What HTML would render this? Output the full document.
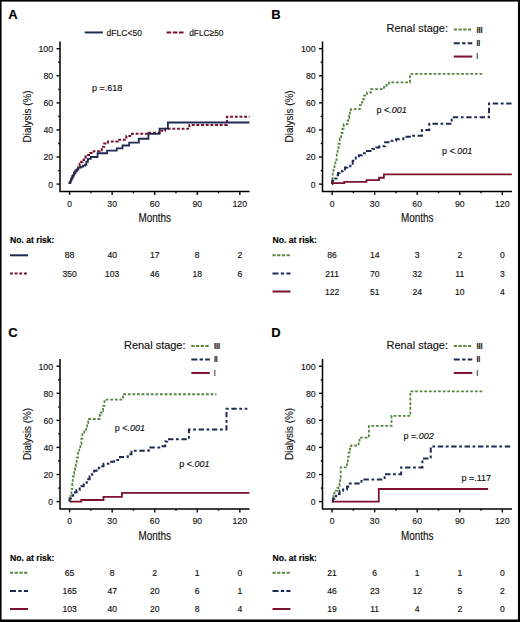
<!DOCTYPE html>
<html><head><meta charset="utf-8"><style>
html,body{margin:0;padding:0;background:#fff;}
svg{display:block;}
text{stroke:#111;stroke-width:0.15px;paint-order:stroke;}
</style></head><body>
<svg width="520" height="622" viewBox="0 0 520 622" font-family='"Liberation Sans", sans-serif'>
<rect x="0" y="0" width="520" height="622" fill="#fff"/>
<text x="8.2" y="19.3" font-size="13" text-anchor="start" font-weight="bold" fill="#000">A</text>
<path d="M60,41.5 V191.40000000000003 H249.5" fill="none" stroke="#000" stroke-width="1.5"/>
<line x1="56.5" y1="184.10" x2="60" y2="184.10" stroke="#000" stroke-width="1.35"/>
<text x="53.1" y="187.55" font-size="9.9" text-anchor="end" textLength="4.75" lengthAdjust="spacingAndGlyphs" fill="#111">0</text>
<line x1="58.2" y1="170.56" x2="60" y2="170.56" stroke="#000" stroke-width="1.35"/>
<line x1="56.5" y1="157.02" x2="60" y2="157.02" stroke="#000" stroke-width="1.35"/>
<text x="53.1" y="160.47" font-size="9.9" text-anchor="end" textLength="9.7" lengthAdjust="spacingAndGlyphs" fill="#111">20</text>
<line x1="58.2" y1="143.48" x2="60" y2="143.48" stroke="#000" stroke-width="1.35"/>
<line x1="56.5" y1="129.94" x2="60" y2="129.94" stroke="#000" stroke-width="1.35"/>
<text x="53.1" y="133.39000000000001" font-size="9.9" text-anchor="end" textLength="9.7" lengthAdjust="spacingAndGlyphs" fill="#111">40</text>
<line x1="58.2" y1="116.40" x2="60" y2="116.40" stroke="#000" stroke-width="1.35"/>
<line x1="56.5" y1="102.86" x2="60" y2="102.86" stroke="#000" stroke-width="1.35"/>
<text x="53.1" y="106.31000000000002" font-size="9.9" text-anchor="end" textLength="9.7" lengthAdjust="spacingAndGlyphs" fill="#111">60</text>
<line x1="58.2" y1="89.32" x2="60" y2="89.32" stroke="#000" stroke-width="1.35"/>
<line x1="56.5" y1="75.78" x2="60" y2="75.78" stroke="#000" stroke-width="1.35"/>
<text x="53.1" y="79.23000000000002" font-size="9.9" text-anchor="end" textLength="9.7" lengthAdjust="spacingAndGlyphs" fill="#111">80</text>
<line x1="58.2" y1="62.24" x2="60" y2="62.24" stroke="#000" stroke-width="1.35"/>
<line x1="56.5" y1="48.70" x2="60" y2="48.70" stroke="#000" stroke-width="1.35"/>
<text x="53.1" y="52.15000000000002" font-size="9.9" text-anchor="end" textLength="14.65" lengthAdjust="spacingAndGlyphs" fill="#111">100</text>
<line x1="69.60" y1="191.40000000000003" x2="69.60" y2="194.90000000000003" stroke="#000" stroke-width="1.35"/>
<text x="69.6" y="206.80000000000004" font-size="9.9" text-anchor="middle" textLength="4.75" lengthAdjust="spacingAndGlyphs" fill="#111">0</text>
<line x1="90.88" y1="191.40000000000003" x2="90.88" y2="193.20000000000005" stroke="#000" stroke-width="1.35"/>
<line x1="112.16" y1="191.40000000000003" x2="112.16" y2="194.90000000000003" stroke="#000" stroke-width="1.35"/>
<text x="112.16" y="206.80000000000004" font-size="9.9" text-anchor="middle" textLength="9.7" lengthAdjust="spacingAndGlyphs" fill="#111">30</text>
<line x1="133.43" y1="191.40000000000003" x2="133.43" y2="193.20000000000005" stroke="#000" stroke-width="1.35"/>
<line x1="154.71" y1="191.40000000000003" x2="154.71" y2="194.90000000000003" stroke="#000" stroke-width="1.35"/>
<text x="154.71" y="206.80000000000004" font-size="9.9" text-anchor="middle" textLength="9.7" lengthAdjust="spacingAndGlyphs" fill="#111">60</text>
<line x1="175.99" y1="191.40000000000003" x2="175.99" y2="193.20000000000005" stroke="#000" stroke-width="1.35"/>
<line x1="197.26" y1="191.40000000000003" x2="197.26" y2="194.90000000000003" stroke="#000" stroke-width="1.35"/>
<text x="197.26" y="206.80000000000004" font-size="9.9" text-anchor="middle" textLength="9.7" lengthAdjust="spacingAndGlyphs" fill="#111">90</text>
<line x1="218.54" y1="191.40000000000003" x2="218.54" y2="193.20000000000005" stroke="#000" stroke-width="1.35"/>
<line x1="239.82" y1="191.40000000000003" x2="239.82" y2="194.90000000000003" stroke="#000" stroke-width="1.35"/>
<text x="239.82" y="206.80000000000004" font-size="9.9" text-anchor="middle" textLength="14.65" lengthAdjust="spacingAndGlyphs" fill="#111">120</text>
<text x="154.71" y="222.40000000000003" font-size="11.9" text-anchor="middle" textLength="32.6" lengthAdjust="spacingAndGlyphs" fill="#111">Months</text>
<text x="0" y="0" font-size="11" text-anchor="middle" textLength="52" lengthAdjust="spacingAndGlyphs" fill="#111" transform="translate(30.7,116.40) rotate(-90)">Dialysis (%)</text>
<line x1="84.8" y1="32.45" x2="102.9" y2="32.45" stroke="#1f2a52" stroke-width="2"/>
<text x="106.5" y="35.8" font-size="9.8" text-anchor="start" textLength="35.5" lengthAdjust="spacingAndGlyphs" fill="#111">dFLC&lt;50</text>
<line x1="166.6" y1="32.5" x2="183.6" y2="32.5" stroke="#7c112e" stroke-width="2" stroke-dasharray="4.6 1.6"/>
<text x="189.2" y="35.8" font-size="9.8" text-anchor="start" textLength="34.3" lengthAdjust="spacingAndGlyphs" fill="#111">dFLC≥50</text>
<text x="91.9" y="90.89999999999999" font-size="9" fill="#111">p =<tspan>.618</tspan></text>
<path d="M69.60,184.10 H69.60 V182.75 H70.31 V180.99 H71.02 V179.36 H71.73 V177.60 H72.44 V175.98 H73.29 V174.35 H74.14 V172.59 H75.42 V170.56 H76.69 V168.53 H78.25 V166.09 H79.67 V163.79 H81.23 V161.76 H82.65 V160.00 H84.07 V158.10 H85.49 V156.61 H86.91 V155.12 H90.17 V152.96 H93.71 V151.20 H99.39 V150.25 H101.80 V146.87 H104.21 V143.62 H108.04 V141.58 H117.69 V139.69 H126.34 V135.90 H132.16 V133.87 H148.47 V132.65 H160.95 V130.75 H165.07 V128.72 H189.46 V124.93 H226.91 V116.81 H249.47" fill="none" stroke="#7c112e" stroke-width="2" stroke-dasharray="2.9 1.75"/>
<path d="M69.60,184.10 H69.60 V182.75 H70.31 V181.12 H71.02 V179.63 H71.73 V178.14 H72.44 V176.52 H73.29 V174.89 H74.14 V173.27 H75.42 V171.37 H76.69 V169.48 H78.25 V167.58 H81.23 V166.63 H83.08 V165.69 H85.06 V164.74 H86.34 V161.76 H87.90 V158.92 H90.74 V157.02 H97.54 V153.23 H107.05 V150.66 H116.69 V148.35 H122.51 V145.51 H129.18 V142.67 H138.82 V138.74 H148.47 V133.87 H159.53 V128.72 H167.90 V122.49 H249.47" fill="none" stroke="#1f2a52" stroke-width="1.8"/>
<text x="10" y="243.3" font-size="8.6" text-anchor="start" font-weight="bold" textLength="44.5" lengthAdjust="spacingAndGlyphs" fill="#000">No. at risk:</text>
<line x1="10" y1="255.3" x2="28" y2="255.3" stroke="#1f2a52" stroke-width="2"/>
<text x="69.6" y="258.4" font-size="8.6" text-anchor="middle" fill="#111">88</text>
<text x="112.16" y="258.4" font-size="8.6" text-anchor="middle" fill="#111">40</text>
<text x="154.71" y="258.4" font-size="8.6" text-anchor="middle" fill="#111">17</text>
<text x="197.26" y="258.4" font-size="8.6" text-anchor="middle" fill="#111">8</text>
<text x="239.82" y="258.4" font-size="8.6" text-anchor="middle" fill="#111">2</text>
<line x1="10" y1="273.40000000000003" x2="28" y2="273.40000000000003" stroke="#7c112e" stroke-width="2" stroke-dasharray="2.9 1.75"/>
<text x="69.6" y="276.5" font-size="8.6" text-anchor="middle" fill="#111">350</text>
<text x="112.16" y="276.5" font-size="8.6" text-anchor="middle" fill="#111">103</text>
<text x="154.71" y="276.5" font-size="8.6" text-anchor="middle" fill="#111">46</text>
<text x="197.26" y="276.5" font-size="8.6" text-anchor="middle" fill="#111">18</text>
<text x="239.82" y="276.5" font-size="8.6" text-anchor="middle" fill="#111">6</text>
<text x="271.2" y="19.3" font-size="13" text-anchor="start" font-weight="bold" fill="#000">B</text>
<path d="M322.5,41.5 V191.40000000000003 H512.0" fill="none" stroke="#000" stroke-width="1.5"/>
<line x1="319.0" y1="184.10" x2="322.5" y2="184.10" stroke="#000" stroke-width="1.35"/>
<text x="315.6" y="187.55" font-size="9.9" text-anchor="end" textLength="4.75" lengthAdjust="spacingAndGlyphs" fill="#111">0</text>
<line x1="320.7" y1="170.56" x2="322.5" y2="170.56" stroke="#000" stroke-width="1.35"/>
<line x1="319.0" y1="157.02" x2="322.5" y2="157.02" stroke="#000" stroke-width="1.35"/>
<text x="315.6" y="160.47" font-size="9.9" text-anchor="end" textLength="9.7" lengthAdjust="spacingAndGlyphs" fill="#111">20</text>
<line x1="320.7" y1="143.48" x2="322.5" y2="143.48" stroke="#000" stroke-width="1.35"/>
<line x1="319.0" y1="129.94" x2="322.5" y2="129.94" stroke="#000" stroke-width="1.35"/>
<text x="315.6" y="133.39000000000001" font-size="9.9" text-anchor="end" textLength="9.7" lengthAdjust="spacingAndGlyphs" fill="#111">40</text>
<line x1="320.7" y1="116.40" x2="322.5" y2="116.40" stroke="#000" stroke-width="1.35"/>
<line x1="319.0" y1="102.86" x2="322.5" y2="102.86" stroke="#000" stroke-width="1.35"/>
<text x="315.6" y="106.31000000000002" font-size="9.9" text-anchor="end" textLength="9.7" lengthAdjust="spacingAndGlyphs" fill="#111">60</text>
<line x1="320.7" y1="89.32" x2="322.5" y2="89.32" stroke="#000" stroke-width="1.35"/>
<line x1="319.0" y1="75.78" x2="322.5" y2="75.78" stroke="#000" stroke-width="1.35"/>
<text x="315.6" y="79.23000000000002" font-size="9.9" text-anchor="end" textLength="9.7" lengthAdjust="spacingAndGlyphs" fill="#111">80</text>
<line x1="320.7" y1="62.24" x2="322.5" y2="62.24" stroke="#000" stroke-width="1.35"/>
<line x1="319.0" y1="48.70" x2="322.5" y2="48.70" stroke="#000" stroke-width="1.35"/>
<text x="315.6" y="52.15000000000002" font-size="9.9" text-anchor="end" textLength="14.65" lengthAdjust="spacingAndGlyphs" fill="#111">100</text>
<line x1="332.10" y1="191.40000000000003" x2="332.10" y2="194.90000000000003" stroke="#000" stroke-width="1.35"/>
<text x="332.1" y="206.80000000000004" font-size="9.9" text-anchor="middle" textLength="4.75" lengthAdjust="spacingAndGlyphs" fill="#111">0</text>
<line x1="353.38" y1="191.40000000000003" x2="353.38" y2="193.20000000000005" stroke="#000" stroke-width="1.35"/>
<line x1="374.66" y1="191.40000000000003" x2="374.66" y2="194.90000000000003" stroke="#000" stroke-width="1.35"/>
<text x="374.66" y="206.80000000000004" font-size="9.9" text-anchor="middle" textLength="9.7" lengthAdjust="spacingAndGlyphs" fill="#111">30</text>
<line x1="395.93" y1="191.40000000000003" x2="395.93" y2="193.20000000000005" stroke="#000" stroke-width="1.35"/>
<line x1="417.21" y1="191.40000000000003" x2="417.21" y2="194.90000000000003" stroke="#000" stroke-width="1.35"/>
<text x="417.21" y="206.80000000000004" font-size="9.9" text-anchor="middle" textLength="9.7" lengthAdjust="spacingAndGlyphs" fill="#111">60</text>
<line x1="438.49" y1="191.40000000000003" x2="438.49" y2="193.20000000000005" stroke="#000" stroke-width="1.35"/>
<line x1="459.77" y1="191.40000000000003" x2="459.77" y2="194.90000000000003" stroke="#000" stroke-width="1.35"/>
<text x="459.77" y="206.80000000000004" font-size="9.9" text-anchor="middle" textLength="9.7" lengthAdjust="spacingAndGlyphs" fill="#111">90</text>
<line x1="481.04" y1="191.40000000000003" x2="481.04" y2="193.20000000000005" stroke="#000" stroke-width="1.35"/>
<line x1="502.32" y1="191.40000000000003" x2="502.32" y2="194.90000000000003" stroke="#000" stroke-width="1.35"/>
<text x="502.32" y="206.80000000000004" font-size="9.9" text-anchor="middle" textLength="14.65" lengthAdjust="spacingAndGlyphs" fill="#111">120</text>
<text x="417.21" y="222.40000000000003" font-size="11.9" text-anchor="middle" textLength="32.6" lengthAdjust="spacingAndGlyphs" fill="#111">Months</text>
<text x="0" y="0" font-size="11" text-anchor="middle" textLength="52" lengthAdjust="spacingAndGlyphs" fill="#111" transform="translate(293.2,116.40) rotate(-90)">Dialysis (%)</text>
<text x="386.5" y="31.85" font-size="11" text-anchor="start" textLength="61.5" lengthAdjust="spacingAndGlyphs" fill="#111">Renal stage:</text>
<line x1="453.8" y1="29.550000000000004" x2="472.3" y2="29.550000000000004" stroke="#568640" stroke-width="1.9" stroke-dasharray="3.2 1.5"/>
<line x1="453.8" y1="43.150000000000006" x2="472.3" y2="43.150000000000006" stroke="#1f2a52" stroke-width="2" stroke-dasharray="6 2.3 3.4 2.2"/>
<line x1="453.8" y1="56.550000000000004" x2="472.3" y2="56.550000000000004" stroke="#7c112e" stroke-width="2"/>
<text x="476.4" y="32.550000000000004" font-size="9.0" text-anchor="start" font-weight="bold" textLength="6.3" lengthAdjust="spacingAndGlyphs" fill="#111">III</text>
<text x="476.4" y="45.95" font-size="9.0" text-anchor="start" font-weight="bold" textLength="3.9" lengthAdjust="spacingAndGlyphs" fill="#111">II</text>
<text x="476.5" y="59.45" font-size="9.0" text-anchor="start" font-weight="bold" textLength="1.5" lengthAdjust="spacingAndGlyphs" fill="#111">I</text>
<path d="M332.10,184.10 H332.38 V178.68 H332.67 V172.18 H333.52 V168.53 H334.51 V165.28 H335.36 V159.86 H336.78 V154.58 H337.63 V149.84 H338.48 V143.75 H339.76 V138.47 H341.18 V133.19 H342.46 V128.72 H343.73 V124.25 H347.42 V120.73 H348.27 V118.16 H349.12 V115.59 H349.97 V112.47 H350.97 V109.09 H359.90 V105.16 H360.90 V102.72 H362.31 V99.34 H363.87 V95.68 H367.00 V92.57 H370.83 V89.18 H384.02 V87.02 H386.43 V84.85 H388.98 V82.41 H409.98 V73.88 H483.03" fill="none" stroke="#568640" stroke-width="1.8" stroke-dasharray="2.8 1.8"/>
<path d="M332.10,184.10 H332.24 V180.72 H334.23 V178.41 H336.50 V175.30 H338.06 V173.00 H339.62 V171.37 H342.74 V170.70 H345.01 V167.58 H347.28 V166.36 H350.40 V163.65 H352.67 V160.68 H355.79 V157.56 H358.91 V155.26 H361.89 V153.36 H365.86 V151.06 H372.24 V149.03 H376.22 V147.54 H379.34 V146.19 H385.15 V142.26 H390.40 V140.77 H396.07 V139.15 H403.31 V136.85 H411.68 V135.63 H421.89 V129.94 H429.27 V123.71 H451.68 V117.21 H488.99 V103.54 H511.82" fill="none" stroke="#1f2a52" stroke-width="2" stroke-dasharray="5.4 2.6 2.8 2.6"/>
<path d="M332.10,184.10 H332.10 V183.15 H344.16 V181.80 H366.43 V180.17 H379.05 V177.74 H383.88 V174.35 H511.82" fill="none" stroke="#7c112e" stroke-width="1.8"/>
<text x="376.5" y="112.6" font-size="9" fill="#111">p &lt;<tspan font-style="italic">.001</tspan></text>
<text x="442" y="154.20000000000002" font-size="9" fill="#111">p &lt;<tspan font-style="italic">.001</tspan></text>
<text x="272.5" y="243.3" font-size="8.6" text-anchor="start" font-weight="bold" textLength="44.5" lengthAdjust="spacingAndGlyphs" fill="#000">No. at risk:</text>
<line x1="272.5" y1="255.3" x2="290.5" y2="255.3" stroke="#568640" stroke-width="1.9" stroke-dasharray="3.2 1.5"/>
<text x="332.1" y="258.4" font-size="8.6" text-anchor="middle" fill="#111">86</text>
<text x="374.66" y="258.4" font-size="8.6" text-anchor="middle" fill="#111">14</text>
<text x="417.21" y="258.4" font-size="8.6" text-anchor="middle" fill="#111">3</text>
<text x="459.77" y="258.4" font-size="8.6" text-anchor="middle" fill="#111">2</text>
<text x="502.32" y="258.4" font-size="8.6" text-anchor="middle" fill="#111">0</text>
<line x1="272.5" y1="273.40000000000003" x2="290.5" y2="273.40000000000003" stroke="#1f2a52" stroke-width="2" stroke-dasharray="6 2.3 3.4 2.2"/>
<text x="332.1" y="276.5" font-size="8.6" text-anchor="middle" fill="#111">211</text>
<text x="374.66" y="276.5" font-size="8.6" text-anchor="middle" fill="#111">70</text>
<text x="417.21" y="276.5" font-size="8.6" text-anchor="middle" fill="#111">32</text>
<text x="459.77" y="276.5" font-size="8.6" text-anchor="middle" fill="#111">11</text>
<text x="502.32" y="276.5" font-size="8.6" text-anchor="middle" fill="#111">3</text>
<line x1="272.5" y1="291.5" x2="290.5" y2="291.5" stroke="#7c112e" stroke-width="2"/>
<text x="332.1" y="294.6" font-size="8.6" text-anchor="middle" fill="#111">122</text>
<text x="374.66" y="294.6" font-size="8.6" text-anchor="middle" fill="#111">51</text>
<text x="417.21" y="294.6" font-size="8.6" text-anchor="middle" fill="#111">24</text>
<text x="459.77" y="294.6" font-size="8.6" text-anchor="middle" fill="#111">10</text>
<text x="502.32" y="294.6" font-size="8.6" text-anchor="middle" fill="#111">4</text>
<text x="8.2" y="337.2" font-size="13" text-anchor="start" font-weight="bold" fill="#000">C</text>
<path d="M60,359.0 V508.90000000000003 H249.5" fill="none" stroke="#000" stroke-width="1.5"/>
<line x1="56.5" y1="501.60" x2="60" y2="501.60" stroke="#000" stroke-width="1.35"/>
<text x="53.1" y="505.05" font-size="9.9" text-anchor="end" textLength="4.75" lengthAdjust="spacingAndGlyphs" fill="#111">0</text>
<line x1="58.2" y1="488.06" x2="60" y2="488.06" stroke="#000" stroke-width="1.35"/>
<line x1="56.5" y1="474.52" x2="60" y2="474.52" stroke="#000" stroke-width="1.35"/>
<text x="53.1" y="477.97" font-size="9.9" text-anchor="end" textLength="9.7" lengthAdjust="spacingAndGlyphs" fill="#111">20</text>
<line x1="58.2" y1="460.98" x2="60" y2="460.98" stroke="#000" stroke-width="1.35"/>
<line x1="56.5" y1="447.44" x2="60" y2="447.44" stroke="#000" stroke-width="1.35"/>
<text x="53.1" y="450.89" font-size="9.9" text-anchor="end" textLength="9.7" lengthAdjust="spacingAndGlyphs" fill="#111">40</text>
<line x1="58.2" y1="433.90" x2="60" y2="433.90" stroke="#000" stroke-width="1.35"/>
<line x1="56.5" y1="420.36" x2="60" y2="420.36" stroke="#000" stroke-width="1.35"/>
<text x="53.1" y="423.81" font-size="9.9" text-anchor="end" textLength="9.7" lengthAdjust="spacingAndGlyphs" fill="#111">60</text>
<line x1="58.2" y1="406.82" x2="60" y2="406.82" stroke="#000" stroke-width="1.35"/>
<line x1="56.5" y1="393.28" x2="60" y2="393.28" stroke="#000" stroke-width="1.35"/>
<text x="53.1" y="396.73" font-size="9.9" text-anchor="end" textLength="9.7" lengthAdjust="spacingAndGlyphs" fill="#111">80</text>
<line x1="58.2" y1="379.74" x2="60" y2="379.74" stroke="#000" stroke-width="1.35"/>
<line x1="56.5" y1="366.20" x2="60" y2="366.20" stroke="#000" stroke-width="1.35"/>
<text x="53.1" y="369.65000000000003" font-size="9.9" text-anchor="end" textLength="14.65" lengthAdjust="spacingAndGlyphs" fill="#111">100</text>
<line x1="69.60" y1="508.90000000000003" x2="69.60" y2="512.4000000000001" stroke="#000" stroke-width="1.35"/>
<text x="69.6" y="524.3000000000001" font-size="9.9" text-anchor="middle" textLength="4.75" lengthAdjust="spacingAndGlyphs" fill="#111">0</text>
<line x1="90.88" y1="508.90000000000003" x2="90.88" y2="510.70000000000005" stroke="#000" stroke-width="1.35"/>
<line x1="112.16" y1="508.90000000000003" x2="112.16" y2="512.4000000000001" stroke="#000" stroke-width="1.35"/>
<text x="112.16" y="524.3000000000001" font-size="9.9" text-anchor="middle" textLength="9.7" lengthAdjust="spacingAndGlyphs" fill="#111">30</text>
<line x1="133.43" y1="508.90000000000003" x2="133.43" y2="510.70000000000005" stroke="#000" stroke-width="1.35"/>
<line x1="154.71" y1="508.90000000000003" x2="154.71" y2="512.4000000000001" stroke="#000" stroke-width="1.35"/>
<text x="154.71" y="524.3000000000001" font-size="9.9" text-anchor="middle" textLength="9.7" lengthAdjust="spacingAndGlyphs" fill="#111">60</text>
<line x1="175.99" y1="508.90000000000003" x2="175.99" y2="510.70000000000005" stroke="#000" stroke-width="1.35"/>
<line x1="197.26" y1="508.90000000000003" x2="197.26" y2="512.4000000000001" stroke="#000" stroke-width="1.35"/>
<text x="197.26" y="524.3000000000001" font-size="9.9" text-anchor="middle" textLength="9.7" lengthAdjust="spacingAndGlyphs" fill="#111">90</text>
<line x1="218.54" y1="508.90000000000003" x2="218.54" y2="510.70000000000005" stroke="#000" stroke-width="1.35"/>
<line x1="239.82" y1="508.90000000000003" x2="239.82" y2="512.4000000000001" stroke="#000" stroke-width="1.35"/>
<text x="239.82" y="524.3000000000001" font-size="9.9" text-anchor="middle" textLength="14.65" lengthAdjust="spacingAndGlyphs" fill="#111">120</text>
<text x="154.71" y="539.9000000000001" font-size="11.9" text-anchor="middle" textLength="32.6" lengthAdjust="spacingAndGlyphs" fill="#111">Months</text>
<text x="0" y="0" font-size="11" text-anchor="middle" textLength="52" lengthAdjust="spacingAndGlyphs" fill="#111" transform="translate(30.7,433.90) rotate(-90)">Dialysis (%)</text>
<text x="124" y="349.34999999999997" font-size="11" text-anchor="start" textLength="61.5" lengthAdjust="spacingAndGlyphs" fill="#111">Renal stage:</text>
<line x1="191.3" y1="345.95" x2="209.8" y2="345.95" stroke="#568640" stroke-width="1.9" stroke-dasharray="3.2 1.5"/>
<line x1="191.3" y1="359.55" x2="209.8" y2="359.55" stroke="#1f2a52" stroke-width="2" stroke-dasharray="6 2.3 3.4 2.2"/>
<line x1="191.3" y1="372.95" x2="209.8" y2="372.95" stroke="#7c112e" stroke-width="2"/>
<text x="213.9" y="348.95" font-size="9.0" text-anchor="start" font-weight="bold" textLength="6.3" lengthAdjust="spacingAndGlyphs" fill="#111">III</text>
<text x="213.9" y="362.34999999999997" font-size="9.0" text-anchor="start" font-weight="bold" textLength="3.9" lengthAdjust="spacingAndGlyphs" fill="#111">II</text>
<text x="214.0" y="375.84999999999997" font-size="9.0" text-anchor="start" font-weight="bold" textLength="1.5" lengthAdjust="spacingAndGlyphs" fill="#111">I</text>
<path d="M69.60,501.60 H69.60 V498.49 H70.45 V493.75 H71.44 V489.14 H72.30 V483.05 H72.72 V476.96 H73.43 V473.84 H74.14 V470.05 H74.99 V466.26 H75.84 V462.33 H76.69 V457.60 H77.97 V452.86 H79.25 V448.12 H80.38 V444.06 H81.37 V438.64 H82.37 V432.55 H84.21 V429.84 H86.20 V426.72 H87.19 V423.07 H88.18 V419.01 H99.67 V414.94 H100.67 V412.78 H101.66 V410.75 H103.08 V405.87 H104.50 V401.13 H105.49 V399.64 H122.94 V394.23 H216.41" fill="none" stroke="#568640" stroke-width="1.8" stroke-dasharray="2.8 1.8"/>
<path d="M69.60,501.60 H69.60 V498.49 H72.72 V495.37 H74.99 V492.26 H76.55 V489.96 H79.67 V488.47 H81.23 V486.16 H83.64 V484.54 H86.62 V482.24 H88.18 V479.26 H89.60 V476.14 H91.87 V474.25 H94.14 V470.86 H96.55 V469.24 H98.82 V467.75 H101.23 V466.26 H103.50 V463.82 H108.47 V461.79 H114.14 V459.90 H119.96 V456.92 H127.76 V454.21 H131.45 V450.69 H148.75 V447.44 H160.38 V446.22 H165.21 V441.62 H167.19 V439.18 H188.90 V429.57 H226.49 V408.72 H247.34" fill="none" stroke="#1f2a52" stroke-width="2" stroke-dasharray="5.4 2.6 2.8 2.6"/>
<path d="M69.60,501.60 H81.23 V499.98 H103.50 V496.86 H121.94 V492.93 H249.47" fill="none" stroke="#7c112e" stroke-width="1.8"/>
<text x="114.8" y="430.7" font-size="9" fill="#111">p &lt;<tspan font-style="italic">.001</tspan></text>
<text x="179.2" y="467.2" font-size="9" fill="#111">p &lt;<tspan font-style="italic">.001</tspan></text>
<text x="10" y="560.8" font-size="8.6" text-anchor="start" font-weight="bold" textLength="44.5" lengthAdjust="spacingAndGlyphs" fill="#000">No. at risk:</text>
<line x1="10" y1="572.8" x2="28" y2="572.8" stroke="#568640" stroke-width="1.9" stroke-dasharray="3.2 1.5"/>
<text x="69.6" y="575.9" font-size="8.6" text-anchor="middle" fill="#111">65</text>
<text x="112.16" y="575.9" font-size="8.6" text-anchor="middle" fill="#111">8</text>
<text x="154.71" y="575.9" font-size="8.6" text-anchor="middle" fill="#111">2</text>
<text x="197.26" y="575.9" font-size="8.6" text-anchor="middle" fill="#111">1</text>
<text x="239.82" y="575.9" font-size="8.6" text-anchor="middle" fill="#111">0</text>
<line x1="10" y1="590.9" x2="28" y2="590.9" stroke="#1f2a52" stroke-width="2" stroke-dasharray="6 2.3 3.4 2.2"/>
<text x="69.6" y="594.0" font-size="8.6" text-anchor="middle" fill="#111">165</text>
<text x="112.16" y="594.0" font-size="8.6" text-anchor="middle" fill="#111">47</text>
<text x="154.71" y="594.0" font-size="8.6" text-anchor="middle" fill="#111">20</text>
<text x="197.26" y="594.0" font-size="8.6" text-anchor="middle" fill="#111">6</text>
<text x="239.82" y="594.0" font-size="8.6" text-anchor="middle" fill="#111">1</text>
<line x1="10" y1="609.0" x2="28" y2="609.0" stroke="#7c112e" stroke-width="2"/>
<text x="69.6" y="612.1" font-size="8.6" text-anchor="middle" fill="#111">103</text>
<text x="112.16" y="612.1" font-size="8.6" text-anchor="middle" fill="#111">40</text>
<text x="154.71" y="612.1" font-size="8.6" text-anchor="middle" fill="#111">20</text>
<text x="197.26" y="612.1" font-size="8.6" text-anchor="middle" fill="#111">8</text>
<text x="239.82" y="612.1" font-size="8.6" text-anchor="middle" fill="#111">4</text>
<text x="271.2" y="336.9" font-size="13" text-anchor="start" font-weight="bold" fill="#000">D</text>
<path d="M322.5,359.0 V508.90000000000003 H512.0" fill="none" stroke="#000" stroke-width="1.5"/>
<line x1="319.0" y1="501.60" x2="322.5" y2="501.60" stroke="#000" stroke-width="1.35"/>
<text x="315.6" y="505.05" font-size="9.9" text-anchor="end" textLength="4.75" lengthAdjust="spacingAndGlyphs" fill="#111">0</text>
<line x1="320.7" y1="488.06" x2="322.5" y2="488.06" stroke="#000" stroke-width="1.35"/>
<line x1="319.0" y1="474.52" x2="322.5" y2="474.52" stroke="#000" stroke-width="1.35"/>
<text x="315.6" y="477.97" font-size="9.9" text-anchor="end" textLength="9.7" lengthAdjust="spacingAndGlyphs" fill="#111">20</text>
<line x1="320.7" y1="460.98" x2="322.5" y2="460.98" stroke="#000" stroke-width="1.35"/>
<line x1="319.0" y1="447.44" x2="322.5" y2="447.44" stroke="#000" stroke-width="1.35"/>
<text x="315.6" y="450.89" font-size="9.9" text-anchor="end" textLength="9.7" lengthAdjust="spacingAndGlyphs" fill="#111">40</text>
<line x1="320.7" y1="433.90" x2="322.5" y2="433.90" stroke="#000" stroke-width="1.35"/>
<line x1="319.0" y1="420.36" x2="322.5" y2="420.36" stroke="#000" stroke-width="1.35"/>
<text x="315.6" y="423.81" font-size="9.9" text-anchor="end" textLength="9.7" lengthAdjust="spacingAndGlyphs" fill="#111">60</text>
<line x1="320.7" y1="406.82" x2="322.5" y2="406.82" stroke="#000" stroke-width="1.35"/>
<line x1="319.0" y1="393.28" x2="322.5" y2="393.28" stroke="#000" stroke-width="1.35"/>
<text x="315.6" y="396.73" font-size="9.9" text-anchor="end" textLength="9.7" lengthAdjust="spacingAndGlyphs" fill="#111">80</text>
<line x1="320.7" y1="379.74" x2="322.5" y2="379.74" stroke="#000" stroke-width="1.35"/>
<line x1="319.0" y1="366.20" x2="322.5" y2="366.20" stroke="#000" stroke-width="1.35"/>
<text x="315.6" y="369.65000000000003" font-size="9.9" text-anchor="end" textLength="14.65" lengthAdjust="spacingAndGlyphs" fill="#111">100</text>
<line x1="332.10" y1="508.90000000000003" x2="332.10" y2="512.4000000000001" stroke="#000" stroke-width="1.35"/>
<text x="332.1" y="524.3000000000001" font-size="9.9" text-anchor="middle" textLength="4.75" lengthAdjust="spacingAndGlyphs" fill="#111">0</text>
<line x1="353.38" y1="508.90000000000003" x2="353.38" y2="510.70000000000005" stroke="#000" stroke-width="1.35"/>
<line x1="374.66" y1="508.90000000000003" x2="374.66" y2="512.4000000000001" stroke="#000" stroke-width="1.35"/>
<text x="374.66" y="524.3000000000001" font-size="9.9" text-anchor="middle" textLength="9.7" lengthAdjust="spacingAndGlyphs" fill="#111">30</text>
<line x1="395.93" y1="508.90000000000003" x2="395.93" y2="510.70000000000005" stroke="#000" stroke-width="1.35"/>
<line x1="417.21" y1="508.90000000000003" x2="417.21" y2="512.4000000000001" stroke="#000" stroke-width="1.35"/>
<text x="417.21" y="524.3000000000001" font-size="9.9" text-anchor="middle" textLength="9.7" lengthAdjust="spacingAndGlyphs" fill="#111">60</text>
<line x1="438.49" y1="508.90000000000003" x2="438.49" y2="510.70000000000005" stroke="#000" stroke-width="1.35"/>
<line x1="459.77" y1="508.90000000000003" x2="459.77" y2="512.4000000000001" stroke="#000" stroke-width="1.35"/>
<text x="459.77" y="524.3000000000001" font-size="9.9" text-anchor="middle" textLength="9.7" lengthAdjust="spacingAndGlyphs" fill="#111">90</text>
<line x1="481.04" y1="508.90000000000003" x2="481.04" y2="510.70000000000005" stroke="#000" stroke-width="1.35"/>
<line x1="502.32" y1="508.90000000000003" x2="502.32" y2="512.4000000000001" stroke="#000" stroke-width="1.35"/>
<text x="502.32" y="524.3000000000001" font-size="9.9" text-anchor="middle" textLength="14.65" lengthAdjust="spacingAndGlyphs" fill="#111">120</text>
<text x="417.21" y="539.9000000000001" font-size="11.9" text-anchor="middle" textLength="32.6" lengthAdjust="spacingAndGlyphs" fill="#111">Months</text>
<text x="0" y="0" font-size="11" text-anchor="middle" textLength="52" lengthAdjust="spacingAndGlyphs" fill="#111" transform="translate(293.2,433.90) rotate(-90)">Dialysis (%)</text>
<text x="386.5" y="349.34999999999997" font-size="11" text-anchor="start" textLength="61.5" lengthAdjust="spacingAndGlyphs" fill="#111">Renal stage:</text>
<line x1="453.8" y1="345.95" x2="472.3" y2="345.95" stroke="#568640" stroke-width="1.9" stroke-dasharray="3.2 1.5"/>
<line x1="453.8" y1="359.55" x2="472.3" y2="359.55" stroke="#1f2a52" stroke-width="2" stroke-dasharray="6 2.3 3.4 2.2"/>
<line x1="453.8" y1="372.95" x2="472.3" y2="372.95" stroke="#7c112e" stroke-width="2"/>
<text x="476.4" y="348.95" font-size="9.0" text-anchor="start" font-weight="bold" textLength="6.3" lengthAdjust="spacingAndGlyphs" fill="#111">III</text>
<text x="476.4" y="362.34999999999997" font-size="9.0" text-anchor="start" font-weight="bold" textLength="3.9" lengthAdjust="spacingAndGlyphs" fill="#111">II</text>
<text x="476.5" y="375.84999999999997" font-size="9.0" text-anchor="start" font-weight="bold" textLength="1.5" lengthAdjust="spacingAndGlyphs" fill="#111">I</text>
<path d="M332.10,501.60 H332.73 V498.70 H333.43 V496.00 H334.14 V492.89 H335.70 V490.60 H337.26 V488.17 H338.39 V485.88 H339.53 V483.44 H340.09 V477.77 H340.66 V467.38 H347.03 V461.57 H347.88 V456.85 H348.73 V452.39 H350.01 V448.75 H351.14 V445.51 H358.65 V442.00 H359.50 V437.54 H368.85 V425.93 H391.52 V415.94 H410.36 V391.38 H483.04" fill="none" stroke="#568640" stroke-width="1.8" stroke-dasharray="2.8 1.8"/>
<path d="M332.10,501.60 H333.01 V498.70 H334.43 V496.27 H336.13 V494.11 H339.53 V490.73 H343.07 V489.52 H347.03 V486.69 H348.17 V483.58 H361.48 V479.39 H384.58 V474.13 H401.15 V467.38 H422.40 V458.47 H430.76 V446.45 H512.22" fill="none" stroke="#1f2a52" stroke-width="2" stroke-dasharray="5.4 2.6 2.8 2.6"/>
<path d="M332.10,501.60 H378.77 V488.98 H488.14" fill="none" stroke="#7c112e" stroke-width="1.8"/>
<text x="403.5" y="439.0" font-size="9" fill="#111">p =<tspan font-style="italic">.002</tspan></text>
<text x="461.4" y="480.90000000000003" font-size="9" fill="#111">p =<tspan>.117</tspan></text>
<text x="272.5" y="560.8" font-size="8.6" text-anchor="start" font-weight="bold" textLength="44.5" lengthAdjust="spacingAndGlyphs" fill="#000">No. at risk:</text>
<line x1="272.5" y1="572.8" x2="290.5" y2="572.8" stroke="#568640" stroke-width="1.9" stroke-dasharray="3.2 1.5"/>
<text x="332.1" y="575.9" font-size="8.6" text-anchor="middle" fill="#111">21</text>
<text x="374.66" y="575.9" font-size="8.6" text-anchor="middle" fill="#111">6</text>
<text x="417.21" y="575.9" font-size="8.6" text-anchor="middle" fill="#111">1</text>
<text x="459.77" y="575.9" font-size="8.6" text-anchor="middle" fill="#111">1</text>
<text x="502.32" y="575.9" font-size="8.6" text-anchor="middle" fill="#111">0</text>
<line x1="272.5" y1="590.9" x2="290.5" y2="590.9" stroke="#1f2a52" stroke-width="2" stroke-dasharray="6 2.3 3.4 2.2"/>
<text x="332.1" y="594.0" font-size="8.6" text-anchor="middle" fill="#111">46</text>
<text x="374.66" y="594.0" font-size="8.6" text-anchor="middle" fill="#111">23</text>
<text x="417.21" y="594.0" font-size="8.6" text-anchor="middle" fill="#111">12</text>
<text x="459.77" y="594.0" font-size="8.6" text-anchor="middle" fill="#111">5</text>
<text x="502.32" y="594.0" font-size="8.6" text-anchor="middle" fill="#111">2</text>
<line x1="272.5" y1="609.0" x2="290.5" y2="609.0" stroke="#7c112e" stroke-width="2"/>
<text x="332.1" y="612.1" font-size="8.6" text-anchor="middle" fill="#111">19</text>
<text x="374.66" y="612.1" font-size="8.6" text-anchor="middle" fill="#111">11</text>
<text x="417.21" y="612.1" font-size="8.6" text-anchor="middle" fill="#111">4</text>
<text x="459.77" y="612.1" font-size="8.6" text-anchor="middle" fill="#111">2</text>
<text x="502.32" y="612.1" font-size="8.6" text-anchor="middle" fill="#111">0</text>
<rect x="0.75" y="0.8" width="518" height="619.5" fill="none" stroke="#000" stroke-width="1.6"/>
<rect x="518" y="0" width="2" height="622" fill="#000"/>
<rect x="0" y="620" width="520" height="2" fill="#000"/>
</svg>
</body></html>
